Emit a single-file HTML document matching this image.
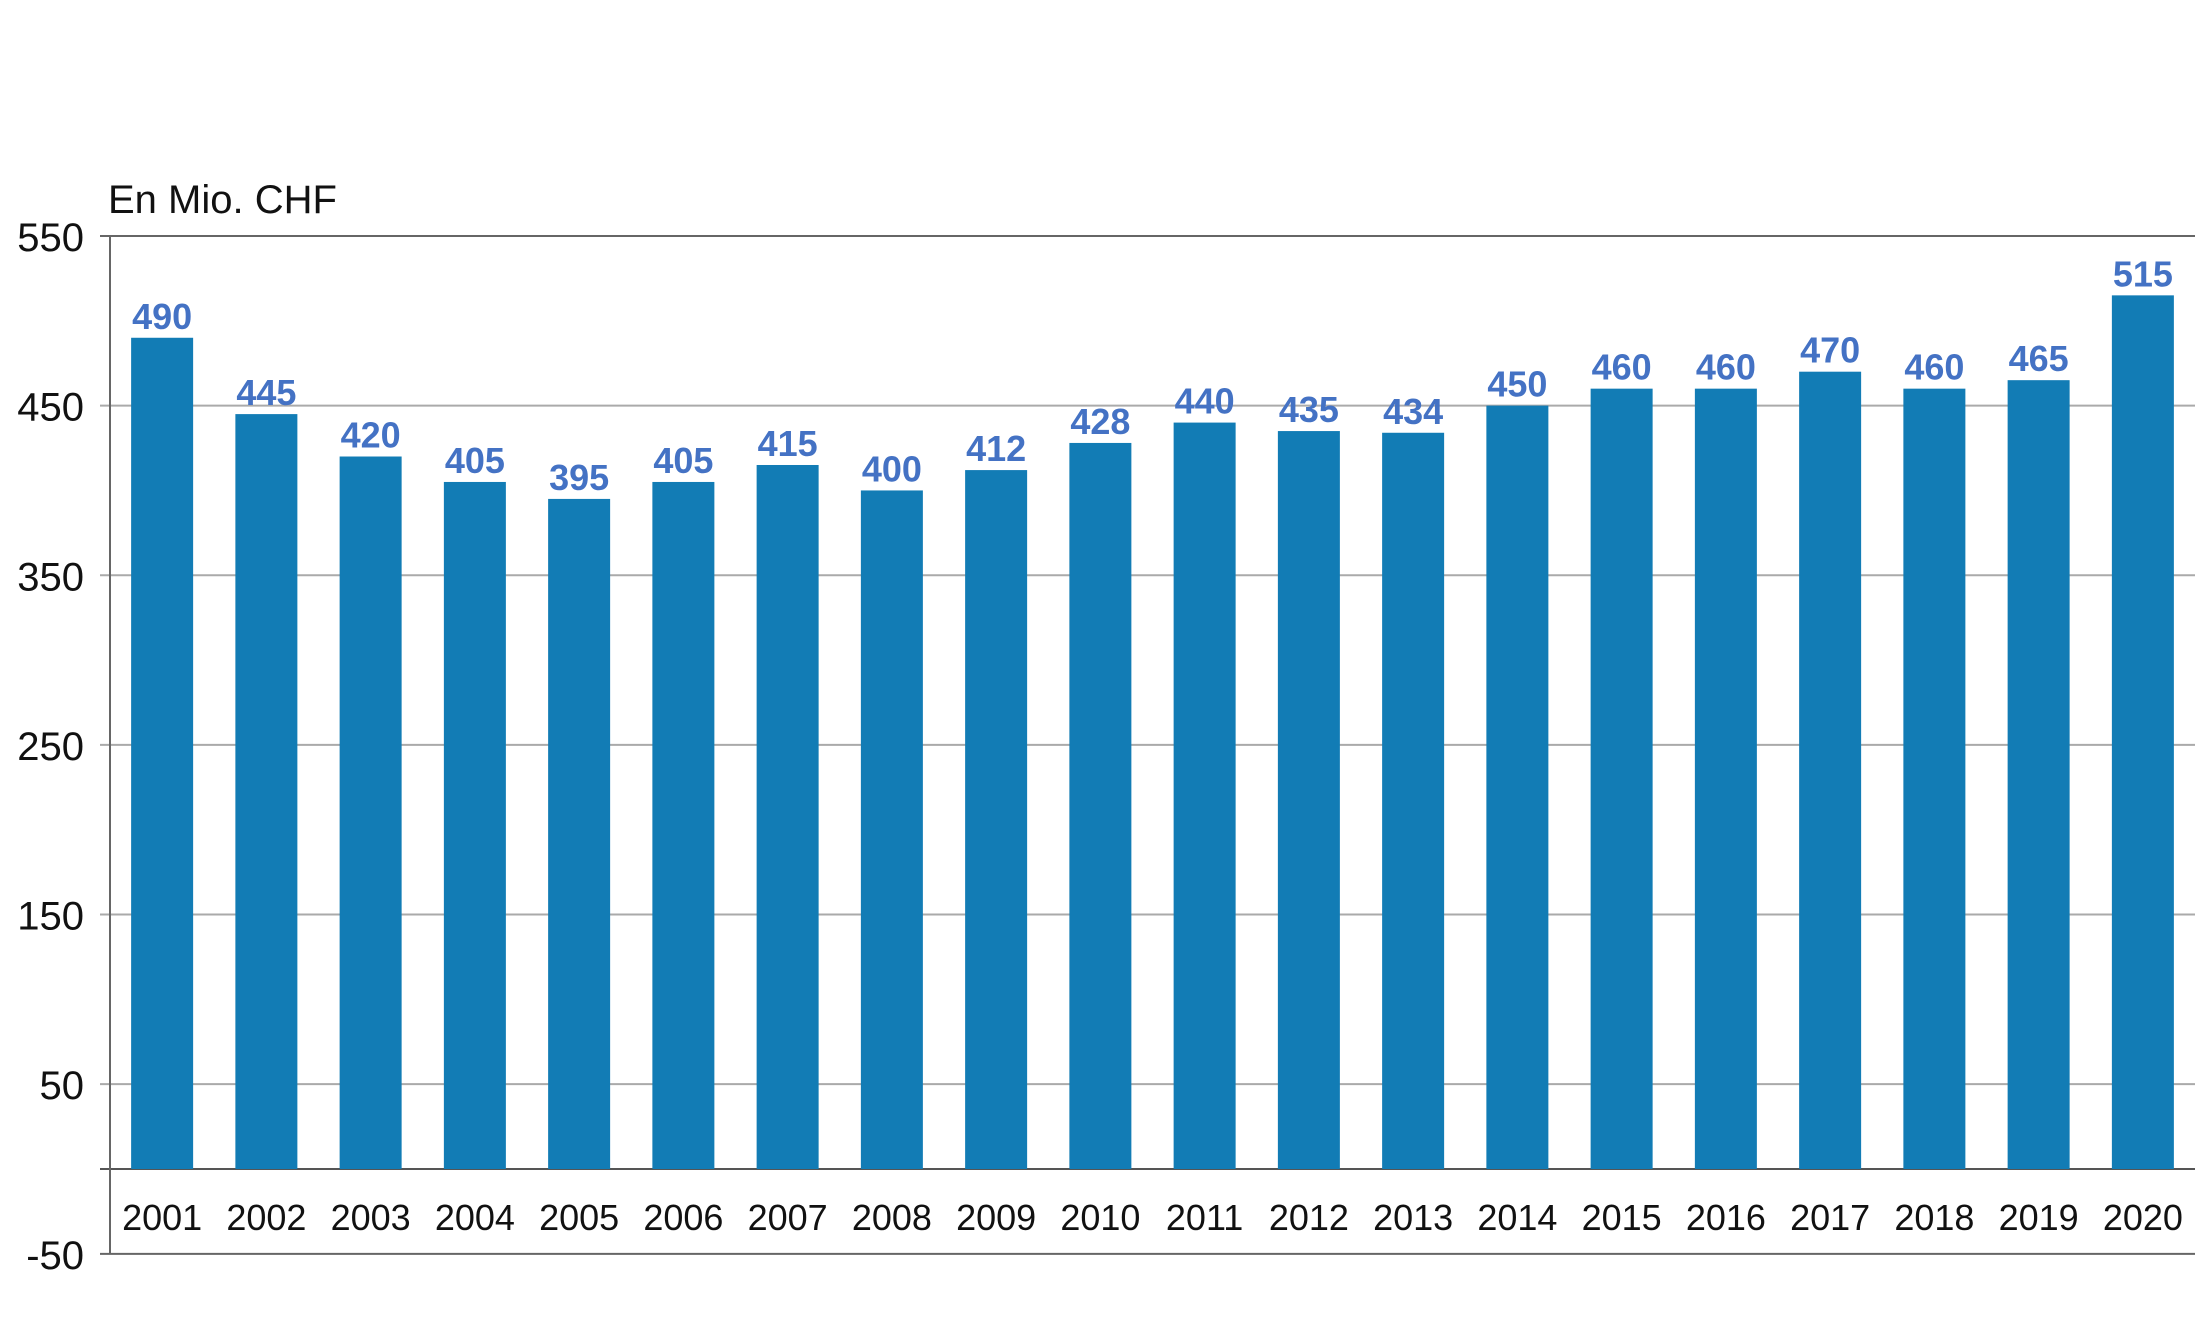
<!DOCTYPE html>
<html><head><meta charset="utf-8"><style>
body{margin:0;background:#fff;}
svg text{font-family:"Liberation Sans",sans-serif;}
</style></head><body>
<svg width="2200" height="1337" viewBox="0 0 2200 1337" xmlns="http://www.w3.org/2000/svg">
<text x="108" y="213" font-size="40" fill="#111">En Mio. CHF</text>
<g id="grid"></g><g id="bars"></g>
</svg>
<script>
const categories=["2001","2002","2003","2004","2005","2006","2007","2008","2009","2010","2011","2012","2013","2014","2015","2016","2017","2018","2019","2020"];
const values=[490,445,420,405,395,405,415,400,412,428,440,435,434,450,460,460,470,460,465,515];
const yTicks=[550,450,350,250,150,50,-50];
const NS="http://www.w3.org/2000/svg";
const x0=110,x1=2195,band=(x1-x0)/categories.length,bw=62;
const y=v=>1169-v*1.6964;
const grid=document.getElementById('grid'),bars=document.getElementById('bars');
function mk(tag,attrs,parent){const e=document.createElementNS(NS,tag);for(const k in attrs)e.setAttribute(k,attrs[k]);parent.appendChild(e);return e;}
yTicks.forEach(t=>{
  const l=mk('line',{x1:100,x2:x1,y1:y(t),y2:y(t),stroke:t===550||t===-50?'#666':'#aaa','stroke-width':2},grid);
  
  
  const tx=mk('text',{x:84,y:y(t)+15,'font-size':40,'text-anchor':'end',fill:'#111'},grid);
  tx.textContent=t;
  
  
});
const zl=mk('line',{x1:100,x2:x1,y1:y(0),y2:y(0),stroke:'#555','stroke-width':2},grid);


const ax=mk('line',{x1:x0,x2:x0,y1:y(550),y2:y(-50),stroke:'#666','stroke-width':2},grid);


categories.forEach((c,i)=>{
  const cx=x0+band*(i+0.5),v=values[i];
  const r=mk('rect',{x:cx-bw/2,y:y(v),width:bw,height:y(0)-y(v),fill:'#127cb5'},bars);
  
  
  const t=mk('text',{x:cx,y:y(v)-9,'font-size':36,'font-weight':'bold','text-anchor':'middle',fill:'#4472c4','font-family':'"Liberation Sans Narrow","Liberation Sans",sans-serif'},bars);
  t.textContent=v;
  
  
  const xl=mk('text',{x:cx,y:1230,'font-size':36,'text-anchor':'middle',fill:'#111'},bars);
  xl.textContent=c;
  
  
});
</script>
</body></html>
